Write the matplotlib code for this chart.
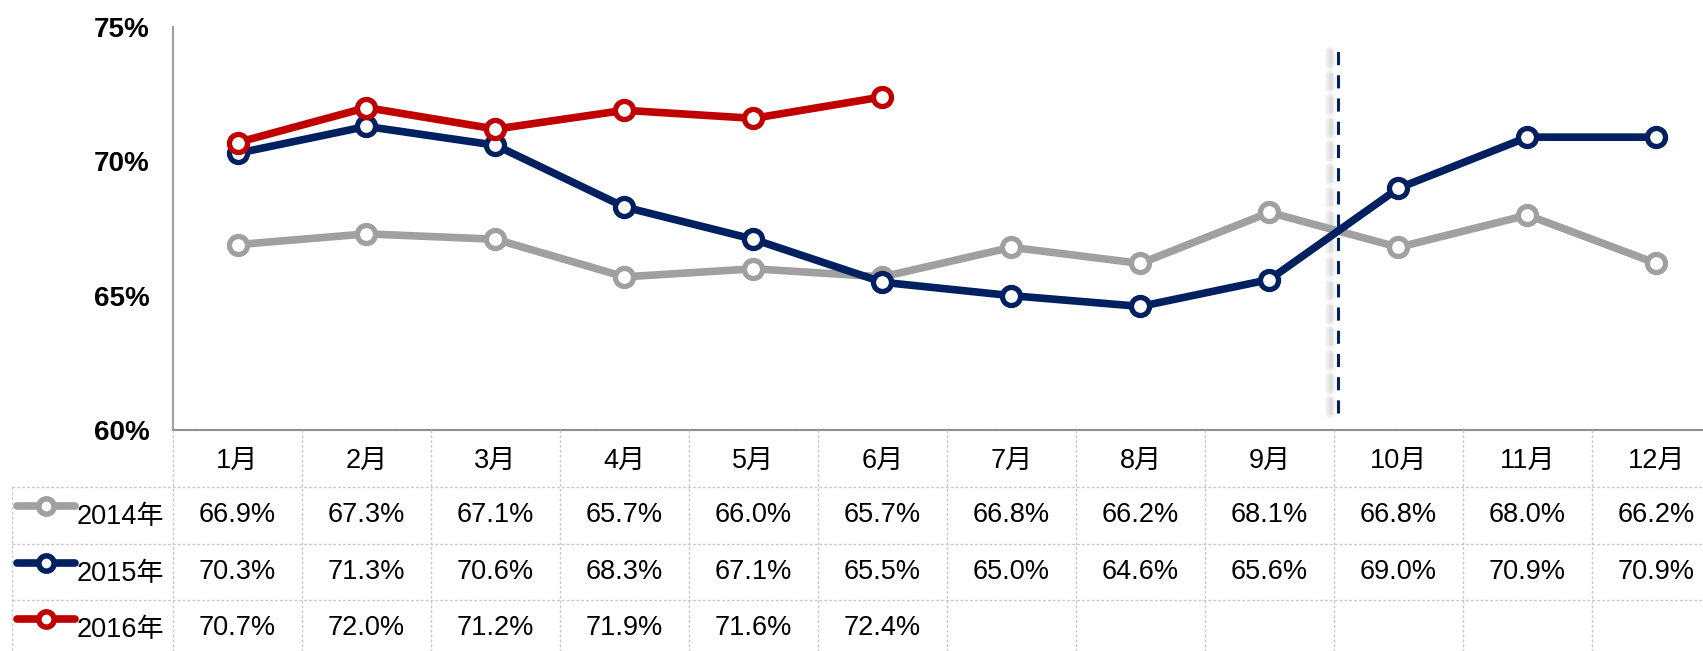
import matplotlib
matplotlib.use("Agg")
import matplotlib.pyplot as plt
from matplotlib.lines import Line2D

plt.rcParams["font.family"] = ["Liberation Sans", "Noto Sans CJK SC", "DejaVu Sans"]

months = ["1月", "2月", "3月", "4月", "5月", "6月", "7月", "8月", "9月", "10月", "11月", "12月"]
series_names = ["2014年", "2015年", "2016年"]
values_2014 = [66.9, 67.3, 67.1, 65.7, 66.0, 65.7, 66.8, 66.2, 68.1, 66.8, 68.0, 66.2]
values_2015 = [70.3, 71.3, 70.6, 68.3, 67.1, 65.5, 65.0, 64.6, 65.6, 69.0, 70.9, 70.9]
values_2016 = [70.7, 72.0, 71.2, 71.9, 71.6, 72.4]
y_ticks = [60, 65, 70, 75]

COLORS = ["#A0A0A0", "#002060", "#C00000"]
W, H = 1703, 651
PLOT_L, PLOT_R = 173, 1721
PLOT_T, PLOT_B = 27, 430
COL_W = (PLOT_R - PLOT_L) / 12
TABLE_L = 12
ROW_EDGES = [430, 487, 543.5, 600, 656.5]

fig = plt.figure(figsize=(W / 100, H / 100), dpi=100)

# main line chart
ax = fig.add_axes([PLOT_L / W, 1 - PLOT_B / H, (PLOT_R - PLOT_L) / W, (PLOT_B - PLOT_T) / H])
ax.set_xlim(0, 12)
ax.set_ylim(60, 75)

all_series = [values_2014, values_2015, values_2016]
for vals, color, z in zip(all_series, COLORS, [3, 4, 5]):
    xs = [i + 0.5 for i in range(len(vals))]
    ax.plot(xs, vals, color=color, lw=5.5, marker="o", ms=13, mfc="white",
            mec=color, mew=3.8, zorder=z, solid_joinstyle="round")

# dashed divider with soft shadow
for off, alpha, lw in [(-0.06, 0.06, 8), (-0.058, 0.08, 5.5), (-0.056, 0.12, 3)]:
    ax.plot([9.03 + off, 9.03 + off], [60.63, 74.44], color="#808080", lw=lw, alpha=alpha,
            dashes=(4.3 * 2.2 / lw, 3.3 * 2.2 / lw), dash_capstyle="round", zorder=2)
ax.plot([9.03, 9.03], [60.63, 74.44], color="#002060", lw=2.2,
        dashes=(4.3, 3.3), dash_capstyle="butt", zorder=6)

ax.set_yticks(y_ticks)
ax.set_yticklabels([f"{t}%" for t in y_ticks], fontsize=20, fontweight="bold")
ax.tick_params(axis="y", length=0, pad=17)
ax.set_xticks([])
for side in ["top", "right"]:
    ax.spines[side].set_visible(False)
ax.spines["left"].set_color("#A0A0A0")
ax.spines["left"].set_linewidth(1.5)
ax.spines["bottom"].set_color("#909090")
ax.spines["bottom"].set_linewidth(1.5)
ax.spines["bottom"].set_linestyle((0, (1, 0.5)))
ax.patch.set_alpha(0)

# data table below
tab = fig.add_axes([TABLE_L / W, 1 - ROW_EDGES[-1] / H, (PLOT_R - TABLE_L) / W,
                    (ROW_EDGES[-1] - ROW_EDGES[0]) / H])
tab.set_xlim(-(PLOT_L - TABLE_L) / COL_W, 12)
tab.set_ylim(ROW_EDGES[-1], ROW_EDGES[0])
tab.axis("off")

grid_kw = dict(color="#C8C8C8", lw=1, ls=(0, (2, 1.5)), zorder=1)
for i in range(1, 13):
    tab.plot([i, i], [ROW_EDGES[0], ROW_EDGES[-1]], **grid_kw)
tab.plot([0, 0], [ROW_EDGES[0], ROW_EDGES[-1]], **grid_kw)
left_edge = -(PLOT_L - TABLE_L) / COL_W
tab.plot([left_edge, left_edge], [ROW_EDGES[1], ROW_EDGES[-1]], **grid_kw)
for y in ROW_EDGES[1:4]:
    tab.plot([left_edge, 12], [y, y], **grid_kw)

centers = [(ROW_EDGES[k] + ROW_EDGES[k + 1]) / 2 for k in range(4)]
for i, m in enumerate(months):
    tab.text(i + 0.5, centers[0] + 2, m, ha="center", va="center", fontsize=19.5)

def px(x):
    return (x - PLOT_L) / COL_W

for r, (name, vals, color) in enumerate(zip(series_names, all_series, COLORS)):
    cy = centers[r + 1]
    tab.add_line(Line2D([px(17), px(75)], [cy - 9, cy - 9], color=color, lw=5.5,
                        solid_capstyle="round", zorder=3))
    tab.add_line(Line2D([px(46)], [cy - 9], marker="o", ms=11, mfc="white", mec=color,
                        mew=4, zorder=4))
    tab.text(px(77), cy + 2, name, ha="left", va="center", fontsize=19.5)
    for i, v in enumerate(vals):
        tab.text(i + 0.5, cy, f"{v:.1f}%", ha="center", va="center", fontsize=19.5)

fig.savefig("out.png", dpi=100)
